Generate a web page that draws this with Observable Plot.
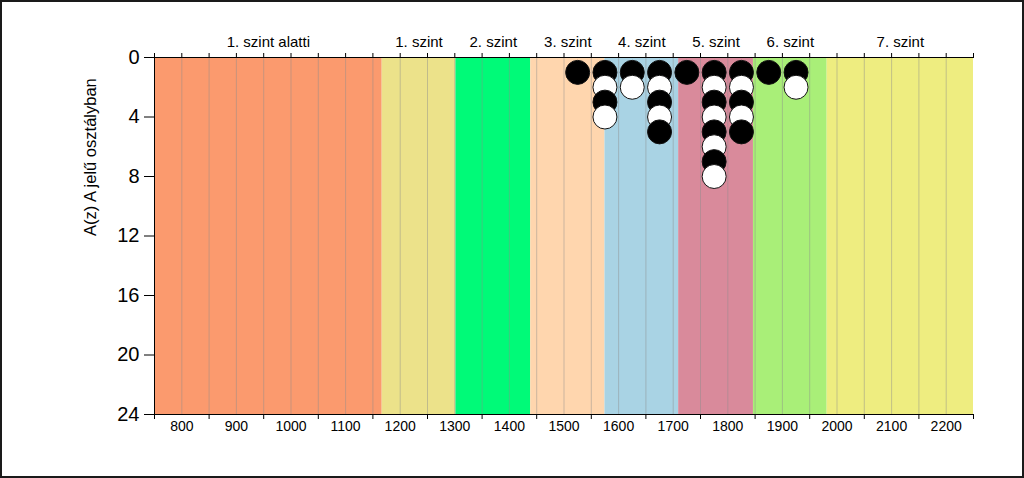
<!DOCTYPE html>
<html><head><meta charset="utf-8">
<script src="https://cdn.jsdelivr.net/npm/d3@7"></script>
<script src="https://cdn.jsdelivr.net/npm/@observablehq/plot@0.6"></script>
<style>
html,body{margin:0;padding:0;background:#fff;}
#wrap{position:relative;width:1024px;height:478px;overflow:hidden;}
#frame{position:absolute;left:0;top:0;width:1024px;height:478px;box-sizing:border-box;border:2px solid #1a1a1a;pointer-events:none;}
</style></head><body>
<div id="wrap"><div id="frame"></div></div>
<script>
const bandNames = ["1. szint alatti", "1. szint", "2. szint", "3. szint", "4. szint", "5. szint", "6. szint", "7. szint"];
const bandStarts = [750, 1167, 1302, 1439, 1575, 1710, 1847, 1982];
const bandEnds = [1167, 1302, 1439, 1575, 1710, 1847, 1982, 2250];
const bandColors = ["#fb9a6e", "#ece28a", "#00fa78", "#ffd6ae", "#a9d3e4", "#d98a9b", "#a9ef78", "#eeed80"];

const binCenters = [1525, 1575, 1625, 1675, 1725, 1775, 1825, 1875, 1925];
const binCounts = [1, 4, 2, 5, 1, 8, 5, 1, 2];

const xLabelTicks = [800, 900, 1000, 1100, 1200, 1300, 1400, 1500, 1600, 1700, 1800, 1900, 2000, 2100, 2200];
const xBottomTicks = [750, 850, 950, 1050, 1150, 1250, 1350, 1450, 1550, 1650, 1750, 1850, 1950, 2050, 2150, 2250];
const xTopTicks = d3.range(750, 2251, 50);
const xGrid = d3.range(800, 2250, 50);
const yTicks = [0, 4, 8, 12, 16, 20, 24];
const yLabel = "A(z) A jelű osztályban";

const bands = bandNames.map((name, i) => ({name, x1: bandStarts[i], x2: bandEnds[i], color: bandColors[i]}));
const dots = [];
binCenters.forEach((x, i) => {
  for (let k = 1; k <= binCounts[i]; k++) dots.push({x, y: k, fill: k % 2 === 1 ? "black" : "white"});
});

const chart = Plot.plot({
  width: 1024,
  height: 478,
  marginLeft: 154,
  marginRight: 51,
  marginTop: 57,
  marginBottom: 64,
  x: {domain: [750, 2250]},
  y: {domain: [0, 24], reverse: true},
  style: {fontFamily: "'Liberation Sans', Arial, sans-serif", background: "white", color: "black"},
  marks: [
    Plot.rect(bands, {x1: "x1", x2: "x2", y1: 0, y2: 24, fill: "color"}),
    Plot.ruleX(xGrid, {stroke: "#8c8c8c", strokeOpacity: 0.45, strokeWidth: 1}),
    Plot.ruleY([0], {stroke: "black"}),
    Plot.ruleY([24], {stroke: "black"}),
    Plot.ruleX([750], {stroke: "black"}),
    Plot.axisY(yTicks, {tickSize: 10, tickPadding: 5, fontSize: 20, tickFormat: d => String(d), label: null}),
    Plot.text([yLabel], {frameAnchor: "left", rotate: -90, dx: -64, fontSize: 16.5}),
    Plot.axisX(xLabelTicks, {anchor: "bottom", tickSize: 0, tickPadding: 7, fontSize: 14, tickFormat: d => String(d), label: null}),
    Plot.axisX(xBottomTicks, {anchor: "bottom", tickSize: 5, tickFormat: () => "", label: null}),
    Plot.axisX(xTopTicks, {anchor: "top", tickSize: 5, tickFormat: () => "", label: null}),
    Plot.text(bands, {x: d => (d.x1 + d.x2) / 2, text: "name", frameAnchor: "top", lineAnchor: "middle", dy: -15, fontSize: 15}),
    Plot.dot(dots, {x: "x", y: "y", r: 12, fill: "fill", stroke: "#111", strokeWidth: 1})
  ]
});
document.getElementById("wrap").insertBefore(chart, document.getElementById("frame"));
</script>
</body></html>
